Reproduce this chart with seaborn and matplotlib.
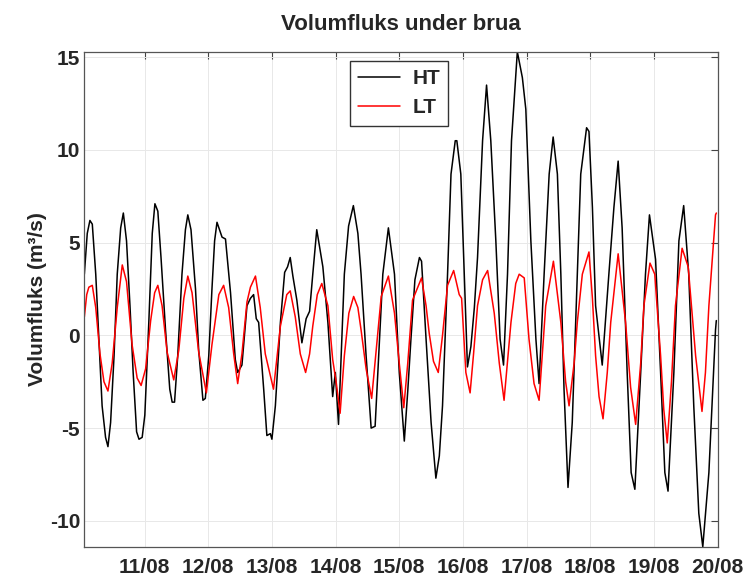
import pandas as pd
import numpy as np
import seaborn as sns
import matplotlib
matplotlib.use("Agg")
from matplotlib import pyplot as plt
import matplotlib.dates as mdates

# hours since 10/08 00:00 and volume flux (m3/s)
ht_hours = [1.3, 2.4, 3.4, 4.3, 5.6, 6.8, 8.0, 9.3, 10.2, 11.2, 12.5, 13.7, 15.0, 16.0, 17.2,
            18.5, 19.7, 21.0, 21.9, 23.1, 24.1, 25.6, 26.9, 27.9, 29.0, 30.2, 31.9, 33.5, 34.4,
            35.3, 36.5, 38.1, 39.4, 40.3, 41.5, 43.2, 44.4, 46.0, 46.9, 48.2, 49.4, 50.4, 51.3,
            53.2, 54.5, 56.4, 58.2, 59.1, 60.7, 62.6, 63.9, 65.1, 66.1, 67.0, 68.9, 70.1, 71.4,
            72.0, 73.3, 75.2, 76.8, 77.9, 78.9, 79.9, 81.4, 83.3, 84.9, 86.2, 87.4, 88.9, 91.2,
            93.1, 94.9, 95.9, 97.1, 98.1, 99.3, 100.9, 102.7, 104.4, 105.6, 107.5, 109.4, 110.9,
            112.1, 113.8, 115.9, 118.2, 120.0, 121.9, 123.2, 124.4, 125.9, 127.6, 128.4, 130.1,
            132.0, 133.8, 135.1, 136.3, 138.2, 139.5, 141.1, 141.7, 143.2, 144.5, 145.7, 147.0,
            148.3, 149.5, 151.4, 152.9, 154.5, 156.4, 158.0, 159.3, 160.8, 162.3, 164.5, 166.4,
            167.7, 169.6, 171.5, 172.7, 174.6, 176.5, 178.0, 179.6, 180.9, 182.1, 183.6, 185.2,
            187.1, 188.4, 190.6, 191.5, 192.8, 194.0, 196.5, 199.0, 200.9, 202.5, 204.0, 205.9,
            207.4, 208.8, 211.0, 212.8, 214.3, 216.6, 218.5, 220.1, 221.3, 223.5, 225.4, 227.2,
            229.1, 231.0, 232.9, 234.4, 236.7, 239.2, 239.5]
ht_flux = [3.3, 5.5, 6.2, 6.0, 3.3, -0.2, -3.8, -5.5, -6.0, -4.7, -1.1, 3.3, 5.8, 6.6, 5.1,
           1.6, -2.0, -5.2, -5.6, -5.5, -4.3, 0.7, 5.5, 7.1, 6.7, 4.2, 0.3, -2.9, -3.6,
           -3.6, -1.1, 3.3, 5.7, 6.5, 5.7, 2.5, -0.8, -3.5, -3.4, -1.1, 2.5, 5.1, 6.1,
           5.3, 5.2, 2.3, -1.3, -2.0, -1.6, 1.6, 2.0, 2.2, 0.9, 0.7, -2.9, -5.4, -5.3,
           -5.6, -3.8, 0.7, 3.4, 3.7, 4.2, 3.2, 1.9, -0.4, 0.9, 1.3, 3.3, 5.7, 3.7,
           0.7, -3.3, -2.0, -4.8, -1.1, 3.3, 5.9, 7.0, 5.5, 3.3, -1.1, -5.0, -4.9,
           -1.5, 3.3, 5.8, 3.3, -2.0, -5.7, -3.0, -0.2, 3.0, 4.2, 4.0, -0.2,
           -4.7, -7.7, -6.5, -3.8, 3.3, 8.7, 10.5, 10.5, 8.7, 3.3, -1.7, -0.6,
           1.5, 4.2, 10.5, 13.5, 10.5, 5.1, -0.2, -1.6, 3.3, 10.5, 15.3, 13.9,
           12.2, 5.1, -0.2, -2.6, 3.3, 8.7, 10.7, 8.7, 3.3, -2.9, -8.2, -4.7,
           3.3, 8.7, 11.2, 11.0, 6.9, 1.6, -1.6, 3.3, 6.9, 9.4, 5.8, -2.0,
           -7.4, -8.3, -2.0, 3.3, 6.5, 4.1, -2.0, -7.4, -8.4, -2.0, 5.1, 7.0,
           3.3, -3.8, -9.6, -11.4, -7.4, 0.3, 0.8]

lt_hours = [1.3, 2.2, 3.0, 4.3, 5.6, 7.2, 8.7, 10.2, 11.8, 13.7, 15.6, 17.2, 19.3, 21.2, 22.7,
            24.4, 26.3, 27.8, 29.0, 30.6, 32.5, 35.0, 36.9, 38.8, 40.3, 41.9, 44.4, 47.3, 49.4,
            52.0, 53.8, 55.7, 57.6, 59.1, 60.7, 62.6, 63.9, 65.8, 67.6, 69.5, 72.6, 75.2, 77.6,
            78.9, 80.8, 82.7, 84.7, 86.2, 87.4, 89.1, 90.8, 93.1, 94.9, 96.2, 97.7, 99.3, 101.0,
            102.8, 104.4, 105.6, 107.5, 109.6, 111.3, 113.2, 115.9, 118.2, 120.0, 121.7, 123.2,
            125.0, 128.4, 130.1, 131.3, 132.9, 134.7, 136.3, 138.2, 140.5, 142.6, 143.5, 145.1,
            146.7, 148.0, 149.5, 151.4, 153.3, 155.8, 157.7, 159.5, 162.1, 163.9, 165.2, 167.1,
            168.9, 170.8, 172.7, 175.2, 178.1, 180.9, 182.7, 184.0, 185.9, 187.1, 189.0, 191.5,
            192.8, 194.0, 195.3, 196.8, 198.4, 199.7, 202.5, 205.3, 207.2, 209.1, 211.0, 212.2,
            214.5, 216.3, 218.5, 219.7, 221.0, 222.6, 224.1, 226.6, 228.9, 231.7, 234.1, 235.4,
            236.7, 239.2, 239.5]
lt_flux = [1.0, 2.2, 2.6, 2.7, 1.5, -1.0, -2.5, -3.0, -1.5, 1.5, 3.8, 2.9, -0.5, -2.3, -2.7,
           -1.8, 0.8, 2.3, 2.7, 1.6, -0.9, -2.4, -0.8, 2.0, 3.2, 2.3, -0.9, -3.1, -0.5,
           2.2, 2.7, 1.5, -1.0, -2.6, -1.0, 1.8, 2.6, 3.2, 1.5, -1.0, -2.9, 0.5, 2.2,
           2.4, 1.0, -1.0, -2.0, -1.0, 0.5, 2.2, 2.8, 1.6, -1.3, -2.5, -4.2, -1.1, 1.2,
           2.1, 1.5, 0.3, -1.8, -3.4, -0.8, 2.1, 3.2, 1.2, -1.5, -3.9, -1.5,
           1.9, 3.1, 1.6, 0.1, -1.4, -2.0, 0.0, 2.7, 3.5, 2.2, 2.0, -2.0,
           -3.1, -1.0, 1.6, 3.0, 3.5, 1.2, -1.5, -3.5, 0.7, 2.8, 3.3, 3.1,
           -0.2, -2.6, -3.5, 1.6, 4.0, 0.7, -2.5, -3.8, -1.5, 0.7, 3.3, 4.5,
           2.0, -1.1, -3.3, -4.5, -2.0, 0.7, 4.4, 0.7, -2.8, -4.8, -1.5, 1.6,
           3.9, 3.3, -1.1, -4.0, -5.8, -2.5, 1.6, 4.7, 3.7, -1.1, -4.1, -2.0,
           1.6, 6.5, 6.6]

start = pd.Timestamp("2019-08-10")
day_ticks = pd.date_range("2019-08-11", "2019-08-20", freq="D")
y_ticks = [-10, -5, 0, 5, 10, 15]

df = pd.concat([
    pd.DataFrame({"tid": start + pd.to_timedelta(ht_hours, unit="h"), "fluks": ht_flux, "serie": "HT"}),
    pd.DataFrame({"tid": start + pd.to_timedelta(lt_hours, unit="h"), "fluks": lt_flux, "serie": "LT"}),
])

sns.set_style("white")
plt.rcParams["font.family"] = ["Liberation Sans", "DejaVu Sans"]
plt.rcParams["font.weight"] = "bold"
plt.rcParams["axes.unicode_minus"] = False

fig = plt.figure(figsize=(7.47, 5.76), dpi=100)
ax = fig.add_axes([0.1129, 0.0498, 0.8478, 0.8604])
sns.lineplot(data=df, x="tid", y="fluks", hue="serie", palette={"HT": "black", "LT": "red"},
             linewidth=1.1, ax=ax, sort=False, estimator=None)

ax.set_xlim(start + pd.Timedelta(hours=1.3), start + pd.Timedelta(hours=239.5))
ax.set_ylim(-11.43, 15.3)
ax.set_xticks(day_ticks)
ax.xaxis.set_major_formatter(mdates.DateFormatter("%d/%m"))
ax.set_yticks(y_ticks)
ax.grid(True, color="#e8e8e8", linewidth=0.7)
ax.tick_params(direction="in", top=True, right=True, length=5, width=0.8, color="#444444",
               labelsize=15)
ax.tick_params(axis="x", pad=8)
ax.tick_params(axis="y", pad=3)
for lab in ax.get_xticklabels() + ax.get_yticklabels():
    lab.set_fontweight("bold")
for sp in ax.spines.values():
    sp.set_color("#555555")
    sp.set_linewidth(0.9)

ax.set_xlabel("")
ax.set_ylabel("Volumfluks (m³/s)", fontsize=15, fontweight="bold", labelpad=2)
ax.set_title("Volumfluks under brua", fontsize=16, fontweight="bold", pad=16)
leg = ax.legend(loc="upper center", bbox_to_anchor=(0.497, 0.982), borderaxespad=0,
                fontsize=15, fancybox=False, framealpha=1, edgecolor="#333333", title=None,
                handlelength=2.0, handletextpad=0.6)
for t in leg.get_texts():
    t.set_fontweight("bold")

fig.savefig("out.png", dpi=100)
